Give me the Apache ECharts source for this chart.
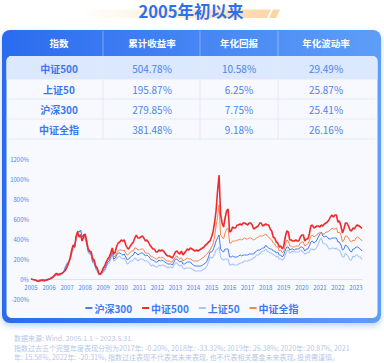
<!DOCTYPE html>
<html><head><meta charset="utf-8">
<script src="https://cdn.jsdelivr.net/npm/echarts@6/dist/echarts.min.js"></script>
<style>html,body{margin:0;padding:0;background:#fff}#c{width:384px;height:363px}</style>
</head><body><div id="c"></div>
<script>
const FONT = '"Noto Sans CJK SC","Noto Sans",sans-serif';
const titleText = '2005年初以来';
const tableHeaders = ['指数', '累计收益率', '年化回报', '年化波动率'];
const indexNames = ['中证500', '上证50', '沪深300', '中证全指'];
const cumReturn = ['504.78%', '195.87%', '279.85%', '381.48%'];
const annReturn = ['10.58%', '6.25%', '7.75%', '9.18%'];
const annVol = ['29.49%', '25.87%', '25.41%', '26.16%'];
const footnotes = [
  '数据来源: Wind. 2005.1.1 ~ 2023.5.31.',
  '指数过去五个完整年度表现分别为2017年: -0.20%, 2018年: -33.32%; 2019年: 26.38%; 2020年: 20.87%, 2021',
  '年: 15.58%, 2022年: -20.31%, 指数过往表现不代表其未来表现, 也不代表相关基金未来表现, 投资需谨慎。'
];
const yTicks = {min: -200, max: 1200, interval: 200};
const seriesNames = ['沪深300', '中证500', '上证50', '中证全指'];

// months 2005-01 .. 2023-05 (x categories)
const months = [];
for (let y = 2005; y <= 2023; y++) for (let m = 1; m <= 12; m++) { if (y === 2023 && m > 5) break; months.push(y + '-' + (m < 10 ? '0' : '') + m); }

const csi500 = [
  0, -5, -8, -12, -20, -22, -18, -15, -14, -18, -12, -8,
  -2, 5, 15, 25, 45, 55, 45, 50, 55, 60, 75, 90,
  120, 160, 210, 280, 340, 320, 430, 470, 420, 440, 380, 430,
  450, 380, 300, 280, 270, 200, 190, 130, 110, 60, 45, 70,
  110, 130, 170, 200, 220, 260, 310, 250, 270, 330, 360, 370,
  390, 380, 390, 340, 310, 300, 330, 350, 370, 410, 440, 410,
  410, 420, 430, 410, 380, 390, 370, 340, 320, 300, 300, 270,
  270, 290, 280, 290, 280, 260, 240, 230, 230, 220, 210, 240,
  270, 280, 260, 250, 280, 240, 260, 280, 300, 290, 310, 300,
  290, 280, 290, 280, 290, 300, 310, 320, 340, 350, 370, 380,
  420, 470, 560, 680, 880, 1040, 650, 560, 520, 610, 680, 700,
  470, 480, 520, 510, 510, 540, 540, 550, 540, 560, 560, 550,
  540, 560, 560, 540, 500, 510, 520, 530, 560, 560, 530, 540,
  550, 540, 540, 500, 480, 420, 410, 370, 360, 320, 330, 300,
  330, 420, 480, 470, 390, 390, 380, 380, 390, 380, 380, 420,
  440, 440, 380, 400, 400, 450, 530, 540, 510, 520, 530, 530,
  520, 540, 530, 550, 560, 570, 590, 620, 640, 620, 640, 640,
  570, 580, 530, 460, 500, 560, 560, 530, 490, 480, 510, 500,
  530, 540, 530, 520, 505
];
const csiAll = [
  0, -4, -8, -12, -18, -20, -18, -14, -14, -18, -14, -10,
  -5, 0, 8, 18, 35, 45, 40, 45, 50, 55, 70, 90,
  130, 165, 210, 290, 340, 310, 400, 450, 420, 450, 380, 420,
  410, 360, 290, 270, 260, 190, 180, 120, 100, 60, 45, 65,
  100, 120, 160, 190, 200, 240, 290, 220, 230, 260, 280, 290,
  290, 280, 290, 260, 240, 250, 270, 280, 280, 310, 310, 290,
  290, 300, 300, 290, 260, 260, 260, 240, 220, 220, 210, 200,
  200, 220, 210, 220, 210, 200, 180, 180, 180, 170, 170, 200,
  220, 230, 210, 200, 210, 180, 190, 200, 210, 200, 200, 190,
  180, 180, 180, 180, 190, 200, 210, 220, 240, 250, 270, 290,
  320, 350, 420, 530, 620, 740, 440, 420, 400, 460, 500, 510,
  360, 360, 380, 380, 380, 390, 390, 400, 390, 400, 410, 400,
  400, 410, 410, 400, 390, 400, 410, 420, 430, 430, 430, 440,
  450, 430, 420, 400, 390, 360, 350, 320, 320, 280, 290, 260,
  280, 340, 390, 380, 330, 330, 320, 320, 330, 330, 330, 360,
  370, 370, 330, 340, 350, 380, 430, 440, 420, 430, 440, 460,
  460, 460, 450, 450, 470, 470, 480, 490, 510, 500, 500, 510,
  460, 470, 440, 370, 390, 430, 430, 410, 380, 370, 390, 380,
  410, 420, 410, 400, 381
];
const hs300 = [
  0, -3, -6, -10, -15, -14, -10, -6, -6, -10, -6, -2,
  0, 6, 10, 20, 35, 45, 40, 40, 50, 60, 80, 120,
  150, 170, 200, 270, 330, 330, 420, 480, 470, 490, 420, 450,
  420, 360, 280, 260, 250, 170, 170, 110, 90, 50, 55, 60,
  80, 100, 130, 170, 180, 220, 270, 200, 210, 240, 260, 260,
  250, 240, 250, 220, 190, 200, 220, 230, 240, 270, 260, 240,
  250, 260, 260, 250, 230, 240, 230, 210, 190, 190, 180, 170,
  170, 190, 180, 190, 180, 170, 160, 150, 150, 150, 140, 170,
  200, 200, 180, 170, 180, 150, 150, 160, 170, 170, 170, 150,
  140, 130, 130, 130, 130, 130, 140, 150, 160, 180, 220, 270,
  270, 290, 330, 380, 410, 440, 300, 280, 270, 300, 300, 300,
  220, 220, 230, 220, 220, 220, 230, 240, 230, 240, 240, 240,
  240, 250, 250, 250, 250, 270, 280, 290, 290, 300, 310, 310,
  340, 320, 310, 300, 300, 280, 280, 260, 270, 240, 240, 220,
  240, 290, 320, 320, 290, 300, 300, 290, 300, 300, 300, 320,
  320, 310, 280, 300, 300, 330, 370, 380, 360, 370, 390, 420,
  450, 470, 430, 420, 430, 420, 400, 400, 410, 410, 410, 410,
  370, 370, 340, 290, 300, 340, 330, 310, 280, 270, 300, 300,
  320, 320, 310, 300, 280
];
const sse50 = [
  0, -3, -6, -10, -14, -12, -8, -5, -5, -10, -6, -2,
  0, 8, 12, 20, 35, 40, 35, 35, 45, 60, 90, 130,
  160, 170, 190, 240, 290, 320, 400, 470, 470, 490, 420, 440,
  400, 340, 260, 250, 240, 160, 160, 100, 80, 40, 45, 50,
  65, 80, 110, 150, 160, 200, 250, 180, 190, 210, 220, 230,
  210, 200, 210, 180, 150, 160, 180, 180, 190, 210, 200, 180,
  190, 200, 200, 190, 180, 180, 170, 150, 130, 140, 130, 120,
  120, 140, 130, 140, 140, 130, 120, 110, 120, 120, 110, 140,
  160, 160, 140, 130, 140, 110, 100, 110, 110, 110, 110, 100,
  90, 80, 80, 80, 80, 80, 90, 100, 110, 130, 170, 220,
  210, 220, 250, 290, 300, 320, 220, 200, 190, 200, 200, 200,
  140, 140, 150, 140, 140, 140, 150, 160, 160, 170, 180, 180,
  180, 190, 190, 200, 210, 220, 240, 240, 250, 270, 280, 280,
  300, 280, 270, 260, 260, 240, 240, 220, 230, 200, 200, 190,
  200, 240, 280, 290, 260, 270, 280, 270, 270, 270, 270, 290,
  280, 270, 250, 260, 260, 270, 300, 300, 290, 300, 320, 350,
  390, 410, 360, 350, 350, 330, 300, 300, 310, 310, 300, 310,
  290, 290, 260, 220, 220, 260, 240, 220, 190, 190, 230, 220,
  240, 240, 220, 220, 196
];

const chart = echarts.init(document.getElementById('c'), null, {renderer: 'svg', width: 384, height: 363});

const colX = [59, 152, 239, 326];
const divX = [103, 200, 278];
const rowY = [68.5, 89, 109, 129];
const rowLines = [79, 99, 119, 139];
const g = [];
// title band
g.push({type: 'polygon', z: -5, shape: {points: [[80, 9.5], [271, 9.5], [267, 18], [80, 18]]},
  style: {fill: {type: 'linear', x: 0, y: 0, x2: 1, y2: 0, colorStops: [{offset: 0, color: 'rgba(253,228,195,0)'}, {offset: 1, color: 'rgba(252,214,165,1)'}]}}});
g.push({type: 'polygon', z: -5, shape: {points: [[273, 9.5], [280, 9.5], [276, 18], [269, 18]]}, style: {fill: '#fbd4a3'}});
g.push({type: 'text', z: 5, x: 191, y: 11, style: {text: titleText, fontSize: 16.5, fontWeight: 'bold', fontFamily: FONT, fill: '#2f70ea', align: 'center', verticalAlign: 'middle'}});
// frame
g.push({type: 'rect', z: -10, shape: {x: 2, y: 30, width: 379, height: 293, r: 8},
  style: {fill: {type: 'linear', x: 0, y: 0, x2: 1, y2: 0, colorStops: [{offset: 0, color: '#2b6bef'}, {offset: 1, color: '#5e9ef8'}]},
    shadowBlur: 6, shadowOffsetY: 3, shadowColor: 'rgba(70,130,240,0.35)'}});
g.push({type: 'rect', z: -9, shape: {x: 6.5, y: 56, width: 371, height: 262, r: 5}, style: {fill: '#f7f9ff'}});
g.push({type: 'rect', z: -8, shape: {x: 6.5, y: 56, width: 371, height: 23, r: [5, 5, 0, 0]}, style: {fill: '#dbe8fd'}});
rowLines.forEach(function (y) { g.push({type: 'line', z: -7, shape: {x1: 6.5, y1: y, x2: 377.5, y2: y}, style: {stroke: '#e1e9f7', lineWidth: 1}}); });
divX.forEach(function (x) {
  g.push({type: 'line', z: -7, shape: {x1: x, y1: 56, x2: x, y2: 139}, style: {stroke: '#e1e9f7', lineWidth: 1}});
  g.push({type: 'line', z: -7, shape: {x1: x, y1: 31, x2: x, y2: 56}, style: {stroke: 'rgba(255,255,255,0.35)', lineWidth: 1}});
});
tableHeaders.forEach(function (t, i) {
  g.push({type: 'text', z: 5, x: colX[i], y: 43, style: {text: t, fontSize: 9.5, fontWeight: 'bold', fontFamily: FONT, fill: '#ffffff', align: 'center', verticalAlign: 'middle'}});
});
indexNames.forEach(function (n, r) {
  const vals = [n, cumReturn[r], annReturn[r], annVol[r]];
  vals.forEach(function (v, i) {
    g.push({type: 'text', z: 5, x: colX[i], y: rowY[r], style: {text: v, fontSize: 10, fontWeight: i === 0 ? 'bold' : 'normal', fontFamily: FONT, fill: i === 0 ? '#3a78ee' : '#4a86ee', align: 'center', verticalAlign: 'middle'}});
  });
});
const footY = [338, 348, 357];
footnotes.forEach(function (t, i) {
  g.push({type: 'text', z: 5, x: 14, y: footY[i], style: {text: t, fontSize: 7, fontFamily: FONT, fill: '#b7c7e6', align: 'left', verticalAlign: 'middle'}});
});

const colors = {'沪深300': '#447ef0', '中证500': '#ee2a2c', '上证50': '#a9c5f5', '中证全指': '#f4884a'};
const dataMap = {'沪深300': hs300, '中证500': csi500, '上证50': sse50, '中证全指': csiAll};
const zMap = {'沪深300': 4, '中证500': 6, '上证50': 3, '中证全指': 5};
const widthMap = {'沪深300': 1, '中证500': 1.6, '上证50': 1.1, '中证全指': 1};

chart.setOption({
  animation: false,
  textStyle: {fontFamily: FONT},
  graphic: g,
  grid: {left: 31, right: 22, top: 159, bottom: 64},
  legend: {
    top: 303, left: 'center', padding: 0, itemGap: 10, itemWidth: 7, itemHeight: 2, icon: 'rect',
    data: seriesNames,
    textStyle: {fontSize: 10, fontWeight: 'bold', color: '#3a7cf0', fontFamily: FONT, padding: [0, 0, 0, -3]}
  },
  xAxis: {
    type: 'category', data: months, boundaryGap: false, offset: -20,
    axisLine: {onZero: false, lineStyle: {color: '#d9e4f7', width: 1}},
    axisTick: {show: false},
    splitLine: {show: false},
    axisLabel: {
      interval: function (i, v) { return v.slice(5) === '01'; },
      formatter: function (v) { return v.slice(0, 4); },
      fontSize: 6, color: '#4a84ee', margin: 5, fontFamily: FONT
    }
  },
  yAxis: {
    type: 'value', min: yTicks.min, max: yTicks.max, interval: yTicks.interval,
    axisLine: {show: false}, axisTick: {show: false}, splitLine: {show: false},
    axisLabel: {formatter: function (v) { return v + '%'; }, fontSize: 6, color: '#4a84ee', margin: 2, fontFamily: FONT}
  },
  series: seriesNames.map(function (n) {
    return {name: n, type: 'line', data: dataMap[n], showSymbol: false, symbol: 'none', z: zMap[n],
      itemStyle: {color: colors[n]}, lineStyle: {color: colors[n], width: widthMap[n]}};
  })
});
</script></body></html>
